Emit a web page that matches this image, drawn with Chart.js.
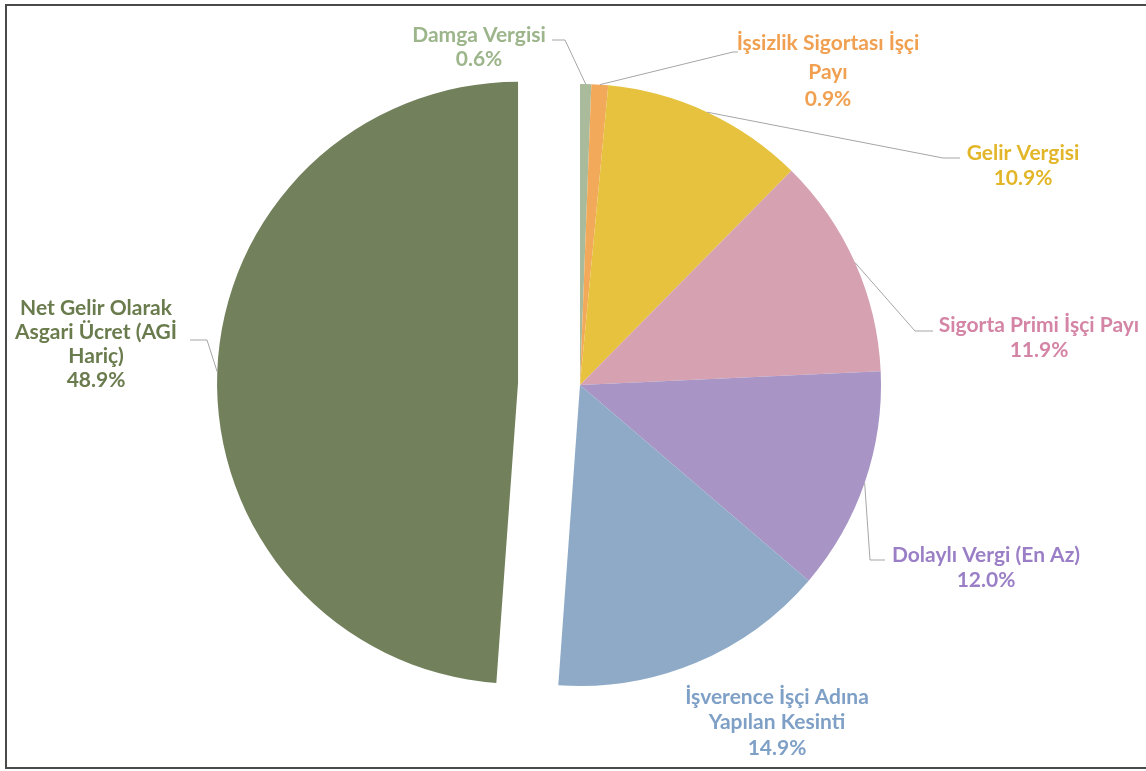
<!DOCTYPE html>
<html>
<head>
<meta charset="utf-8">
<script src="https://cdn.jsdelivr.net/npm/chart.js@4.4.1/dist/chart.umd.min.js"></script>
<style>
    html, body { margin: 0; padding: 0; background: #fff; }
    #wrap { width: 1146px; height: 771px; position: relative; }
</style>
</head>
<body>
<div id="wrap"><canvas id="pieChart"></canvas></div>
<script>
// Data
const categories = [
    'Damga Vergisi',
    'İşsizlik Sigortası İşçi Payı',
    'Gelir Vergisi',
    'Sigorta Primi İşçi Payı',
    'Dolaylı Vergi (En Az)',
    'İşverence İşçi Adına Yapılan Kesinti',
    'Net Gelir Olarak Asgari Ücret (AGİ Hariç)'
];
const shares = [0.6, 0.9, 10.9, 11.9, 12.0, 14.9, 48.9];

// Styling
const sliceColors = ['#a9bb9b', '#f2aa5a', '#e6c23e', '#d6a1b0', '#a895c5', '#8eaac7', '#72815c'];
const textColors  = ['#9cb58a', '#f0a050', '#e2b628', '#d484a5', '#9b7fc6', '#7fa0c6', '#6a7b4d'];
const explode     = [0, 0, 0, 0, 0, 0, 62];

// label layout: wrapped lines, centre x, line centres, leader elbow points (label side first)
const labelLayout = [
    { lines: ['Damga Vergisi'], x: 479, y: [35, 59], leader: [[552, 40], [565, 40]] },
    { lines: ['İşsizlik Sigortası İşçi', 'Payı'], x: 828, y: [43, 72, 99], leader: [[738, 52], [733, 52]] },
    { lines: ['Gelir Vergisi'], x: 1023, y: [153, 178], leader: [[960, 158], [943, 158]] },
    { lines: ['Sigorta Primi İşçi Payı'], x: 1039, y: [325, 350], leader: [[933, 331], [915, 331]] },
    { lines: ['Dolaylı Vergi (En Az)'], x: 986, y: [555, 580], leader: [[885, 560], [870, 560]] },
    { lines: ['İşverence İşçi Adına', 'Yapılan Kesinti'], x: 777, y: [697, 722, 748], leader: null },
    { lines: ['Net Gelir Olarak', 'Asgari Ücret (AGİ', 'Hariç)'], x: 96, y: [308, 332, 356, 380], leader: [[190, 340], [207, 340]] }
];

const FONT = 'bold 21px Lato, "Open Sans", sans-serif';

// draws the slices itself so one can be pulled out of the pie
const explodePlugin = {
    id: 'explode',
    beforeDatasetDraw(chart, args) {
        const ctx = chart.ctx;
        args.meta.data.forEach((arc, i) => {
            const mid = (arc.startAngle + arc.endAngle) / 2;
            ctx.save();
            ctx.translate(Math.cos(mid) * explode[i], Math.sin(mid) * explode[i]);
            arc.draw(ctx);
            ctx.restore();
        });
        return false;
    }
};

const labelPlugin = {
    id: 'outsideLabels',
    afterDraw(chart) {
        const ctx = chart.ctx;
        const meta = chart.getDatasetMeta(0);
        ctx.save();
        meta.data.forEach((arc, i) => {
            const lay = labelLayout[i];
            const mid = (arc.startAngle + arc.endAngle) / 2;
            const r = arc.outerRadius;
            const ax = arc.x + Math.cos(mid) * (r + explode[i]);
            const ay = arc.y + Math.sin(mid) * (r + explode[i]);

            if (lay.leader) {
                ctx.strokeStyle = '#a6a6a6';
                ctx.lineWidth = 1;
                ctx.beginPath();
                ctx.moveTo(lay.leader[0][0], lay.leader[0][1]);
                for (let k = 1; k < lay.leader.length; k++) {
                    ctx.lineTo(lay.leader[k][0], lay.leader[k][1]);
                }
                ctx.lineTo(ax, ay);
                ctx.stroke();
            }

            ctx.font = FONT;
            ctx.fillStyle = textColors[i];
            ctx.textAlign = 'center';
            ctx.textBaseline = 'middle';
            const lines = lay.lines.concat([shares[i].toFixed(1) + '%']);
            lines.forEach((t, k) => ctx.fillText(t, lay.x, lay.y[k]));
        });

        // frame
        ctx.strokeStyle = '#4a4a4a';
        ctx.lineWidth = 2;
        ctx.beginPath();
        ctx.moveTo(1146, 5);
        ctx.lineTo(6, 5);
        ctx.lineTo(6, 768);
        ctx.lineTo(1146, 768);
        ctx.stroke();
        ctx.restore();
    }
};

const ctx = document.getElementById('pieChart').getContext('2d');
const pieChart = new Chart(ctx, {
    type: 'pie',
    data: {
        labels: categories,
        datasets: [{
            data: shares,
            backgroundColor: sliceColors,
            borderWidth: 0,
            hoverOffset: 0
        }]
    },
    options: {
        responsive: true,
        maintainAspectRatio: false,
        animation: false,
        layout: {
            padding: { top: 84, bottom: 85, left: 14, right: 0 }
        },
        plugins: {
            legend: { display: false },
            tooltip: { enabled: false }
        }
    },
    plugins: [explodePlugin, labelPlugin]
});
</script>
</body>
</html>
